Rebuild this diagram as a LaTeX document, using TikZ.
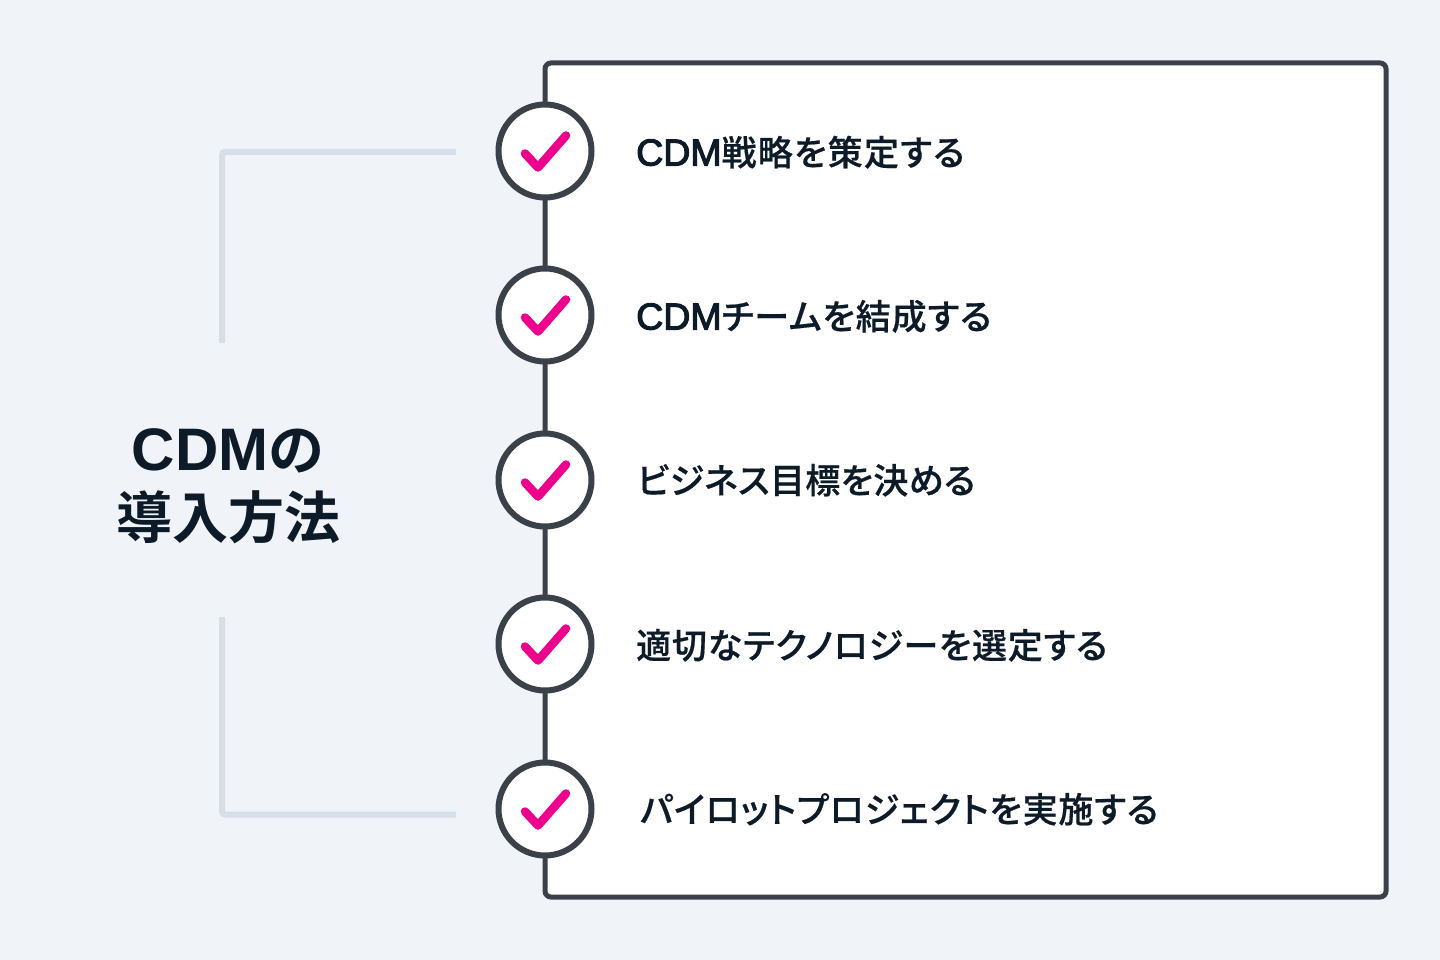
\documentclass[tikz,border=0pt]{standalone}
\usepackage{fontspec}
\newfontfamily\jpreg[RawFeature=+palt,FakeBold=0.5]{Noto Sans CJK JP Medium}
\newfontfamily\jpbold{Noto Sans CJK JP Bold}
\newfontfamily\latb{Liberation Sans Bold}
\newfontfamily\latm[FakeBold=3]{Liberation Sans}
\definecolor{bgc}{HTML}{F0F4F9}
\definecolor{darkl}{HTML}{3A4149}
\definecolor{inkc}{HTML}{0D1A28}
\definecolor{pinkc}{HTML}{EC008C}
\definecolor{brk}{HTML}{D6DEE7}
\newcommand{\itemcdm}{{\latm\fontsize{37.5pt}{37pt}\selectfont CDM}}
\newcommand{\spc}[1]{\addfontfeature{LetterSpace=#1}}
\tikzset{
  x=1pt,y=-1pt,
  panel/.style={draw=darkl,line width=5pt,fill=white,rounded corners=6pt},
  stepcircle/.style={circle,draw=darkl,line width=6pt,fill=white,minimum size=93pt,inner sep=0pt,outer sep=0pt},
  itemtext/.style={anchor=base west,inner sep=0pt,text=inkc,font=\jpreg\fontsize{35pt}{35pt}\selectfont},
  titletext/.style={anchor=center,inner sep=0pt,text=inkc,align=center,font=\jpbold\fontsize{56pt}{68pt}\selectfont},
  bracket/.style={draw=brk,line width=6pt,rounded corners=3pt},
  tick/.style={draw=pinkc,line width=8.5pt,line cap=round,line join=round},
}
\begin{document}
\begin{tikzpicture}
\useasboundingbox[fill=bgc] (0,0) rectangle (1440,960);
\draw[panel] (545,63) rectangle (1386,897);
\foreach \n/\y in {1/151,2/315,3/480,4/644,5/809}{
  \node[stepcircle] (c\n) at (545,\y) {};
  \draw[tick] (525,153.5) ++(0,\y-151) -- ++(13,14) -- ++(28,-32);
}
\node[itemtext] (t1) at (636,165.5) {\itemcdm {\spc{3.6}戦略を策定する}};
\node[itemtext] (t2) at (636,329.5) {\itemcdm {\spc{2.6}チームを結成する}};
\node[itemtext] (t3) at (637,493.5) {{\spc{1}ビジネス目標を決める}};
\node[itemtext] (t4) at (636,658.5) {{\spc{2.2}適切なテクノロジーを選定する}};
\node[itemtext] (t5) at (640,822.5) {{\spc{2.4}パイロットプロジェクトを実施する}};
\node[titletext] (title) at (228,486) {{\latb\fontsize{60pt}{68pt}\selectfont CDM}の\\導入方法};
\coordinate (b1s) at (456,152);
\coordinate (b1c) at (222,152);
\coordinate (b1e) at (222,343);
\coordinate (b2s) at (222,617);
\coordinate (b2c) at (222,814.5);
\coordinate (b2e) at (456,814.5);
\draw[bracket] (b1s) -- (b1c) -- (b1e);
\draw[bracket] (b2s) -- (b2c) -- (b2e);
\end{tikzpicture}
\end{document}
